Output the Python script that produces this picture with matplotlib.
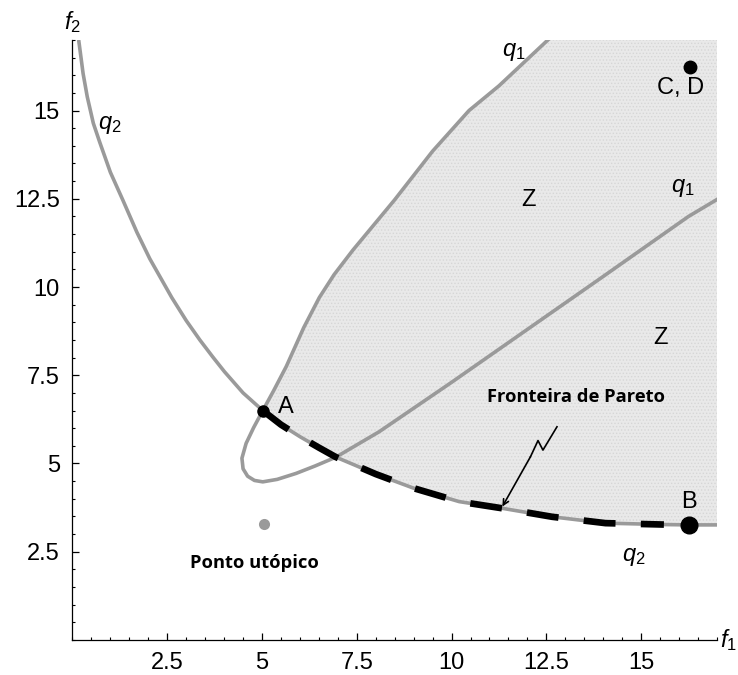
import numpy as np
import matplotlib.pyplot as plt
from matplotlib.ticker import MultipleLocator

plt.rcParams['font.family'] = 'Liberation Sans'
plt.rcParams['mathtext.fontset'] = 'custom'
plt.rcParams['mathtext.rm'] = 'Liberation Sans'
plt.rcParams['mathtext.it'] = 'Liberation Sans:italic'
plt.rcParams['hatch.linewidth'] = 0.6

# curve q2 (f2 as function of f1)
q2_f1 = [0.17, 0.28, 0.39, 0.55, 0.72, 1.0, 1.33, 1.7, 2.04, 2.62, 3.0, 3.36,
         3.7, 4.01, 4.5, 5.02, 5.5, 6.0, 6.5, 6.95, 7.5, 8.0, 9.0, 10.2,
         11.34, 12.65, 14.06, 15.6, 16.27, 17.0]
q2_f2 = [16.95, 16.05, 15.39, 14.64, 14.1, 13.25, 12.46, 11.55, 10.8, 9.7,
         9.05, 8.5, 8.02, 7.6, 7.0, 6.5, 6.1, 5.76, 5.45, 5.18, 4.93, 4.7,
         4.3, 3.92, 3.73, 3.49, 3.31, 3.27, 3.26, 3.26]

# curve q1: upper branch from the top, round the loop, out to the right
q1_f1 = [12.54, 11.25, 10.46, 9.5, 8.49, 7.4, 6.9, 6.51, 6.1, 5.64, 5.3,
         5.02, 4.78, 4.58, 4.47, 4.5, 4.62, 4.8, 5.02, 5.4, 5.9, 6.4, 6.95,
         8.09, 10.0, 12.0, 14.0, 16.25, 17.0]
q1_f2 = [17.0, 15.7, 15.0, 13.85, 12.46, 11.05, 10.35, 9.7, 8.85, 7.75, 7.05,
         6.5, 6.02, 5.57, 5.15, 4.85, 4.64, 4.52, 4.48, 4.55, 4.72, 4.93, 5.18,
         5.9, 7.3, 8.8, 10.3, 12.0, 12.48]
q1_upper_n = 12  # points of q1 down to A

point_A = (5.02, 6.5)
point_B = (16.27, 3.26)
point_CD = (16.29, 16.22)
utopia = (5.05, 3.28)
pareto_end = 15.6

# squiggle arrow pointing at the Pareto front
arrow_f1 = [12.78, 12.41, 12.28, 12.08, 11.34]
arrow_f2 = [6.04, 5.38, 5.65, 5.19, 3.78]

gray = '#9a9a9a'

fig = plt.figure(figsize=(7.38, 6.75), dpi=100)
ax = fig.add_axes([0.0982, 0.0519, 0.8733, 0.8889])
ax.set_xlim(0, 17)
ax.set_ylim(0, 17)

# shaded region Z: right of q1 upper branch, above q2
q2x = np.array(q2_f1)
q2y = np.array(q2_f2)
after_A = q2x >= point_A[0]
zone_x = list(q1_f1[:q1_upper_n]) + list(q2x[after_A]) + [17.0]
zone_y = list(q1_f2[:q1_upper_n]) + list(q2y[after_A]) + [17.0]
ax.fill(zone_x, zone_y, facecolor='#e9e9e9', edgecolor='#d6d6d6', lw=0,
        hatch='.....', zorder=1)

ax.plot(q2_f1, q2_f2, color=gray, lw=2.6, zorder=2, solid_joinstyle='round')
ax.plot(q1_f1, q1_f2, color=gray, lw=2.6, zorder=2, solid_joinstyle='round')

# Pareto front (dashed black part of q2)
front = (q2x >= point_A[0]) & (q2x <= pareto_end)
line, = ax.plot(q2x[front], q2y[front], color='black', lw=4.8, zorder=3)
line.set_dashes([4.8, 3.8])
line.set_dash_capstyle('butt')

ax.plot(*point_A, 'o', color='black', ms=8, zorder=4)
ax.plot(*point_B, 'o', color='black', ms=12, zorder=4)
ax.plot(*point_CD, 'o', color='black', ms=9, zorder=4)
ax.plot(*utopia, 'o', color=gray, ms=8, zorder=4, mec='none')

ax.plot(arrow_f1[:-1], arrow_f2[:-1], color='black', lw=1.2, zorder=4)
ax.annotate('', xy=(arrow_f1[-1], arrow_f2[-1]), xytext=(arrow_f1[-2], arrow_f2[-2]),
            arrowprops=dict(arrowstyle='->', color='black', lw=1.2,
                            shrinkA=0, shrinkB=0), zorder=4)

fs = 17
ax.text(5.62, 6.6, 'A', fontsize=fs, ha='center', va='center')
ax.text(16.25, 3.9, 'B', fontsize=fs, ha='center', va='center')
ax.text(16.03, 15.63, 'C, D', fontsize=fs, ha='center', va='center')
ax.text(12.04, 12.46, 'Z', fontsize=fs, ha='center', va='center')
ax.text(15.5, 8.55, 'Z', fontsize=fs, ha='center', va='center')
ax.text(11.64, 16.67, '$q_1$', fontsize=fs, ha='center', va='center')
ax.text(16.1, 12.8, '$q_1$', fontsize=fs, ha='center', va='center')
ax.text(0.99, 14.6, '$q_2$', fontsize=fs, ha='center', va='center')
ax.text(14.8, 2.36, '$q_2$', fontsize=fs, ha='center', va='center')
ax.text(13.27, 6.89, 'Fronteira de Pareto', fontsize=13.2, fontweight='bold',
        family='Open Sans', ha='center', va='center')
ax.text(4.8, 2.18, 'Ponto utópico', fontsize=13.2, fontweight='bold',
        family='Open Sans', ha='center', va='center')

ax.text(1.005, 0.0, '$f_1$', transform=ax.transAxes, fontsize=fs,
        ha='left', va='center')
ax.text(0.0, 1.03, '$f_2$', transform=ax.transAxes, fontsize=fs,
        ha='center', va='center')

for side in ['top', 'right']:
    ax.spines[side].set_visible(False)
for side in ['left', 'bottom']:
    ax.spines[side].set_linewidth(0.9)

ax.xaxis.set_minor_locator(MultipleLocator(0.5))
ax.yaxis.set_minor_locator(MultipleLocator(0.5))
ax.set_xticks([2.5, 5, 7.5, 10, 12.5, 15])
ax.set_xticklabels(['2.5', '5', '7.5', '10', '12.5', '15'])
ax.set_yticks([2.5, 5, 7.5, 10, 12.5, 15])
ax.set_yticklabels(['2.5', '5', '7.5', '10', '12.5', '15'])
ax.tick_params(which='major', direction='in', length=5, width=0.9,
               labelsize=fs, pad=9)
ax.tick_params(which='minor', direction='in', length=2.5, width=0.8)

fig.savefig('out.png', dpi=100)
